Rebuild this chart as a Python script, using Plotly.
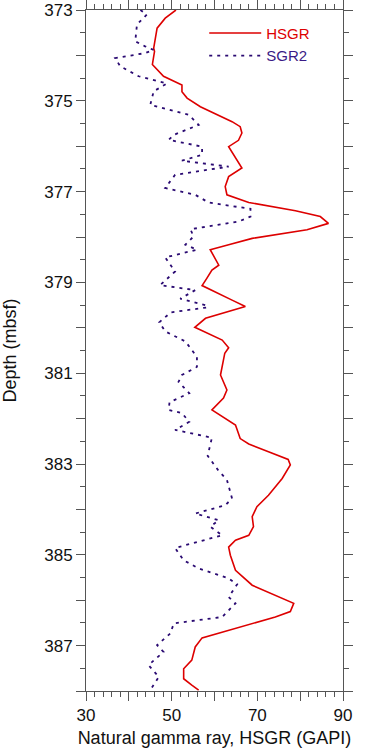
import plotly.graph_objects as go

# HSGR (GAPI) vs depth (mbsf)
hsgr_depth = [373.00, 373.18, 373.40, 373.62, 373.84, 373.91, 374.17, 374.20, 374.46, 374.65,
              374.80, 374.94, 375.13, 375.46, 375.57, 375.71, 375.87, 376.01, 376.48, 376.67,
              376.89, 377.07, 377.24, 377.42, 377.55, 377.70, 377.84, 378.03, 378.17, 378.28,
              378.62, 378.73, 378.91, 379.07, 379.39, 379.53, 379.79, 379.99, 380.27, 380.44,
              380.56, 381.04, 381.37, 381.55, 381.81, 381.96, 382.14, 382.44, 382.56, 382.73,
              382.90, 383.02, 383.32, 383.69, 383.94, 384.16, 384.38, 384.57, 384.68, 384.83,
              385.01, 385.34, 385.60, 385.67, 386.07, 386.25, 386.37, 386.83, 387.03, 387.32,
              387.51, 387.73, 387.87, 387.98]
hsgr_value = [51.0, 48.5, 46.6, 46.2, 45.8, 46.0, 45.6, 45.5, 48.1, 52.4,
              52.4, 53.6, 56.7, 64.1, 66.0, 66.4, 65.6, 63.3, 66.4, 63.3,
              62.5, 62.9, 68.0, 78.9, 84.7, 86.6, 81.6, 68.8, 63.3, 59.0,
              61.0, 59.4, 58.2, 57.1, 64.1, 67.2, 57.9, 55.4, 61.8, 63.3,
              62.4, 61.4, 62.9, 62.1, 59.4, 61.8, 64.9, 66.0, 68.0, 72.6,
              77.2, 77.7, 75.8, 72.6, 69.9, 68.8, 69.1, 68.0, 64.9, 63.3,
              63.7, 64.9, 68.0, 68.8, 78.5, 77.7, 74.2, 57.1, 55.5, 54.7,
              52.8, 52.8, 54.7, 56.3]

# SGR2 (GAPI) vs depth (mbsf)
sgr2_depth = [373.00, 373.10, 373.32, 373.69, 373.80, 373.88, 373.95, 374.06, 374.24, 374.46,
              374.62, 374.79, 375.09, 375.16, 375.31, 375.53, 375.75, 375.86, 375.97, 376.01,
              376.19, 376.32, 376.45, 376.63, 376.92, 377.07, 377.24, 377.38, 377.55, 377.66,
              377.83, 377.99, 378.17, 378.28, 378.45, 378.76, 379.06, 379.17, 379.36, 379.50,
              379.55, 379.66, 379.88, 380.08, 380.30, 380.64, 380.86, 381.04, 381.19, 381.44,
              381.64, 381.81, 381.88, 382.07, 382.25, 382.42, 382.82, 383.13, 383.35, 383.76,
              383.91, 384.09, 384.24, 384.38, 384.57, 384.85, 385.12, 385.30, 385.52, 385.65,
              385.93, 386.07, 386.37, 386.51, 386.73, 386.99, 387.14, 387.43, 387.69, 387.98]
sgr2_value = [42.7, 44.2, 41.9, 41.5, 43.8, 45.8, 43.8, 36.8, 38.0, 42.3,
              48.9, 45.8, 45.0, 47.7, 54.0, 56.3, 50.5, 49.3, 54.7, 57.1,
              57.1, 52.4, 63.3, 50.8, 48.5, 55.5, 58.6, 68.4, 68.4, 65.6,
              54.4, 55.1, 53.2, 55.9, 48.5, 50.8, 47.3, 55.5, 52.0, 57.9,
              58.4, 49.8, 47.1, 48.5, 53.2, 55.9, 55.9, 52.4, 51.6, 54.1,
              49.5, 49.3, 52.4, 54.1, 50.8, 59.4, 58.4, 60.8, 62.9, 64.1,
              62.5, 55.5, 61.0, 59.0, 61.8, 50.8, 52.8, 56.3, 63.3, 65.3,
              63.3, 64.9, 61.8, 50.5, 49.7, 46.6, 48.1, 44.6, 47.0, 45.0]

depth_ticks = list(range(373, 389))
depth_labels = [str(d) if d % 2 == 1 else "" for d in depth_ticks]
gamma_ticks = [30, 40, 50, 60, 70, 80, 90]
gamma_labels = ["30", "", "50", "", "70", "", "90"]

RED = "#dd0000"
BLUE = "#2a0a72"
AXIS = "#555555"
FONT = "Liberation Sans, Arial, sans-serif"

fig = go.Figure()
fig.add_trace(go.Scatter(
    x=hsgr_value, y=hsgr_depth, mode="lines",
    name="<span style='color:#dd0000'>HSGR</span>",
    line=dict(color=RED, width=1.6)))
fig.add_trace(go.Scatter(
    x=sgr2_value, y=sgr2_depth, mode="lines",
    name="<span style='color:#3a1a86'>SGR2</span>",
    line=dict(color=BLUE, width=1.8, dash="3px,5px")))

axis_common = dict(
    showline=True, linecolor=AXIS, linewidth=1, mirror="ticks",
    ticks="outside", ticklen=9, tickcolor=AXIS, tickwidth=1,
    showgrid=False, zeroline=False, automargin=False,
    ticklabeloverflow="allow",
    tickfont=dict(family=FONT, size=17, color="#111111"),
)

fig.update_xaxes(
    range=[30, 90], tickmode="array", tickvals=gamma_ticks, ticktext=gamma_labels,
    minor=dict(dtick=2, tick0=30, ticklen=5, tickcolor=AXIS, ticks="outside", showgrid=False),
    title=dict(text="Natural gamma ray, HSGR (GAPI)",
               font=dict(family=FONT, size=18, color="#111111"), standoff=6),
    **axis_common)
fig.update_yaxes(
    range=[388, 373], tickmode="array", tickvals=depth_ticks, ticktext=depth_labels,
    minor=dict(dtick=0.5, tick0=373, ticklen=5, tickcolor=AXIS, ticks="outside", showgrid=False),
    title=dict(text="Depth (mbsf)",
               font=dict(family=FONT, size=18, color="#111111"), standoff=22),
    **axis_common)

fig.update_layout(
    width=369, height=755,
    margin=dict(l=86, r=26, t=10, b=64),
    paper_bgcolor="white", plot_bgcolor="white",
    showlegend=True,
    legend=dict(x=0.46, y=0.99, xanchor="left", yanchor="top",
                bgcolor="rgba(0,0,0,0)", borderwidth=0,
                font=dict(family=FONT, size=15), itemwidth=52,
                tracegroupgap=0),
)

fig.write_html("out.html", config={"displayModeBar": False},
               post_script="document.body.style.margin='0';")
